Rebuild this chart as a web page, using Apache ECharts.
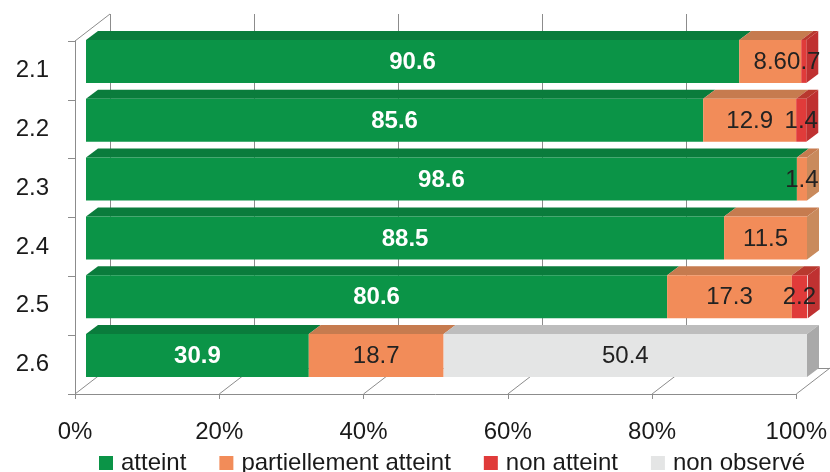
<!DOCTYPE html>
<html>
<head>
<meta charset="utf-8">
<script src="https://cdn.jsdelivr.net/npm/echarts@6/dist/echarts.min.js"></script>
<style>
  html, body { margin: 0; padding: 0; background: #ffffff; }
  #chart { width: 830px; height: 472px; }
</style>
</head>
<body>
<div id="chart"></div>
<script>
// Objectifs 2.1 – 2.6 : répartition des résultats (en %)
const categories = ['2.1', '2.2', '2.3', '2.4', '2.5', '2.6'];
const atteint = [90.6, 85.6, 98.6, 88.5, 80.6, 30.9];
const partiellement = [8.6, 12.9, 1.4, 11.5, 17.3, 18.7];
const nonAtteint = [0.7, 1.4, 0, 0, 2.2, 0];
const nonObserve = [0, 0, 0, 0, 0, 50.4];
const seriesNames = ['atteint', 'partiellement atteint', 'non atteint', 'non observé'];
const axisTicks = [0, 20, 40, 60, 80, 100];

const seriesValues = [atteint, partiellement, nonAtteint, nonObserve];

// face colours: front, top, right side
const frontColors = ['#0b9447', '#f28c59', '#e03b3a', '#e4e5e5'];
const topColors = ['#0a7c3c', '#c67b4f', '#b8392e', '#bdbdbd'];
const sideColors = ['#08733a', '#c98a5c', '#bf3131', '#a9a9a9'];

const FONT = "'Liberation Sans Narrow', 'Arial Narrow', 'Liberation Sans', Arial, sans-serif";
const GRID_COLOR = '#8c8c8c';
const TEXT_COLOR = '#1a1a1a';

// perspective offsets
const DEPTH_X = 35, DEPTH_Y = 27;   // front plane -> back wall
const BAR_X = 11, BAR_Y = 9;        // front plane -> front face of bars
const FACE_X = 12, FACE_Y = 9;      // thickness of each bar
const BAR_RATIO = 0.73;

const FRONT = { left: 75, top: 41, width: 722, height: 353 };

const chart = echarts.init(document.getElementById('chart'), null, { renderer: 'canvas' });

function hideZero(p) {
  return p.value > 0 ? String(p.value) : '';
}

const barSeries = seriesValues.map(function (vals, k) {
  return {
    name: seriesNames[k],
    type: 'bar',
    stack: 'total',
    xAxisIndex: 1,
    yAxisIndex: 1,
    barWidth: (BAR_RATIO * 100) + '%',
    itemStyle: { color: frontColors[k] },
    label: {
      show: true,
      position: 'inside',
      offset: [0, 1],
      formatter: hideZero,
      fontFamily: FONT,
      fontSize: 24,
      fontWeight: k === 0 ? 'bold' : 'normal',
      color: k === 0 ? '#ffffff' : '#222222'
    },
    emphasis: { disabled: true },
    data: vals,
    z: 3
  };
});

// top and right faces of each stacked bar, from the same values
const facesSeries = {
  type: 'custom',
  xAxisIndex: 1,
  yAxisIndex: 1,
  silent: true,
  z: 3,
  data: categories.map(function (c, i) { return [0, i]; }),
  renderItem: function (params, api) {
    const i = params.dataIndex;
    const band = api.size([0, 1])[1];
    const h = band * BAR_RATIO;
    const yc = api.coord([0, i])[1];
    const yTop = yc - h / 2, yBot = yc + h / 2;
    const children = [];
    let acc = 0, last = 0;
    seriesValues.forEach(function (vals, k) {
      const v = vals[i];
      if (!(v > 0)) return;
      const x0 = api.coord([acc, i])[0];
      const x1 = api.coord([acc + v, i])[0];
      children.push({
        type: 'polygon',
        shape: { points: [[x0, yTop], [x1, yTop], [x1 + FACE_X, yTop - FACE_Y], [x0 + FACE_X, yTop - FACE_Y]] },
        style: { fill: topColors[k] }
      });
      acc += v;
      last = k;
    });
    const xe = api.coord([acc, i])[0];
    children.push({
      type: 'polygon',
      shape: { points: [[xe, yTop], [xe + FACE_X, yTop - FACE_Y], [xe + FACE_X, yBot - FACE_Y], [xe, yBot]] },
      style: { fill: sideColors[last] }
    });
    return { type: 'group', children: children };
  }
};

// floor edges running back from each tick, plus the top edge of the left wall
const depthLines = {
  type: 'custom',
  xAxisIndex: 0,
  yAxisIndex: 0,
  silent: true,
  z: 1,
  data: axisTicks.map(function (t) { return [t, 0]; }),
  renderItem: function (params, api) {
    const cs = params.coordSys;
    const x = api.coord([api.value(0), 0])[0];
    const floorY = cs.y + cs.height;
    const children = [{
      type: 'line',
      shape: { x1: x, y1: floorY, x2: x + DEPTH_X, y2: floorY - DEPTH_Y },
      style: { stroke: GRID_COLOR, lineWidth: 1 }
    }];
    if (params.dataIndex === 0) {
      children.push({
        type: 'line',
        shape: { x1: x, y1: cs.y, x2: x + DEPTH_X, y2: cs.y - DEPTH_Y },
        style: { stroke: GRID_COLOR, lineWidth: 1 }
      });
    }
    return { type: 'group', children: children };
  }
};

chart.setOption({
  animation: false,
  backgroundColor: '#ffffff',
  grid: [
    { left: FRONT.left, top: FRONT.top, width: FRONT.width, height: FRONT.height },
    { left: FRONT.left + BAR_X, top: FRONT.top - BAR_Y, width: FRONT.width - 1, height: FRONT.height },
    { left: FRONT.left + DEPTH_X, top: FRONT.top - DEPTH_Y, width: FRONT.width, height: FRONT.height + 1 }
  ],
  legend: {
    data: seriesNames,
    left: 94,
    top: 446,
    itemWidth: 14,
    itemHeight: 14,
    itemGap: 33,
    icon: 'rect',
    selectedMode: false,
    textStyle: { fontFamily: FONT, fontSize: 24, color: TEXT_COLOR, padding: [0, 0, 0, 3] }
  },
  xAxis: [
    {
      gridIndex: 0, type: 'value', min: 0, max: 100, interval: 20,
      axisLine: { show: true, lineStyle: { color: GRID_COLOR } },
      axisTick: { show: true, length: 5, lineStyle: { color: GRID_COLOR } },
      splitLine: { show: false },
      axisLabel: { formatter: '{value}%', fontFamily: FONT, fontSize: 24, color: TEXT_COLOR, margin: 26 }
    },
    { gridIndex: 1, type: 'value', min: 0, max: 100, show: false },
    {
      gridIndex: 2, type: 'value', min: 0, max: 100, interval: 20,
      axisLine: { show: true, lineStyle: { color: GRID_COLOR } },
      axisTick: { show: false },
      axisLabel: { show: false },
      splitLine: { show: true, lineStyle: { color: GRID_COLOR, width: 1 } }
    }
  ],
  yAxis: [
    {
      gridIndex: 0, type: 'category', data: categories, inverse: true,
      axisLine: { show: true, lineStyle: { color: GRID_COLOR } },
      axisTick: { show: true, length: 7, lineStyle: { color: GRID_COLOR } },
      splitLine: { show: false },
      axisLabel: { fontFamily: FONT, fontSize: 24, color: TEXT_COLOR, margin: 26, padding: [3, 0, 0, 0] }
    },
    { gridIndex: 1, type: 'category', data: categories, inverse: true, show: false },
    { gridIndex: 2, type: 'value', show: false, splitLine: { show: false } }
  ],
  series: [depthLines].concat(barSeries, [facesSeries])
});
</script>
</body>
</html>
